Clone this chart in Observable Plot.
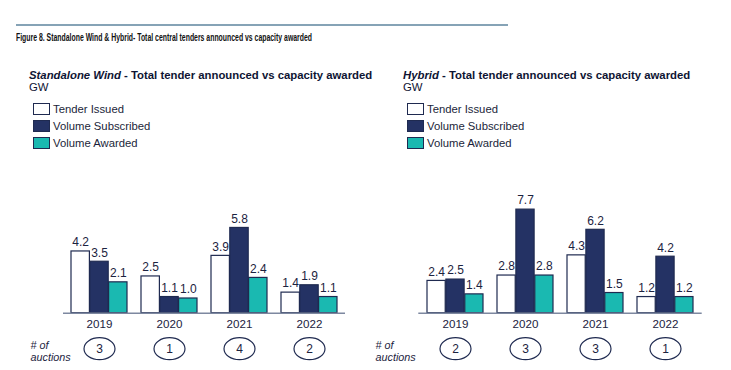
<!DOCTYPE html>
<html>
<head>
<meta charset="utf-8">
<script src="https://cdn.jsdelivr.net/npm/d3@7"></script>
<script src="https://cdn.jsdelivr.net/npm/@observablehq/plot@0.6"></script>
<style>
  body { margin: 0; background: #fff; width: 731px; height: 370px; position: relative; overflow: hidden; font-family: "Liberation Sans", Arial, sans-serif; }
  .abs { position: absolute; white-space: nowrap; }
  .rule { left: 16px; top: 24px; width: 492px; height: 0; border-top: 2px solid #86a3b6; }
  .title { left: 16px; top: 32px; font-family: "Liberation Sans", Arial, sans-serif; font-weight: bold; font-size: 10px; line-height: 12px; color: #111; transform-origin: 0 50%; }
  .sub { font-size: 11.35px; line-height: 11px; font-weight: bold; color: #0e1433; }
  .gw { font-size: 11.35px; line-height: 11px; color: #0e1433; }
  .leg { font-size: 11.3px; line-height: 13px; color: #1b1f3a; }
  .sw { position: absolute; width: 15px; height: 10px; border: 1px solid #1f2a50; }
</style>
</head>
<body>
<div class="abs rule"></div>
<div class="abs title" id="title">Figure 8. Standalone Wind &amp; Hybrid- Total central tenders announced vs capacity awarded</div>
<div class="abs sub" style="left:29px;top:69.5px"><i>Standalone Wind</i> - Total tender announced vs capacity awarded</div>
<div class="abs gw" style="left:29px;top:81.5px">GW</div>
<div class="abs sub" style="left:403px;top:69.5px"><i>Hybrid</i> - Total tender announced vs capacity awarded</div>
<div class="abs gw" style="left:403px;top:81.5px">GW</div>
<div id="legL"></div>
<div id="legR"></div>
<div id="chartL" class="abs" style="left:0;top:190px"></div>
<div id="chartR" class="abs" style="left:365px;top:190px"></div>
<script>
const years = ["2019", "2020", "2021", "2022"];
const seriesNames = ["Tender Issued", "Volume Subscribed", "Volume Awarded"];
const seriesColors = ["#ffffff", "#243264", "#1ab9b1"];

const windTender = [4.2, 2.5, 3.9, 1.4];
const windSubscribed = [3.5, 1.1, 5.8, 1.9];
const windAwarded = [2.1, 1.0, 2.4, 1.1];
const windAuctions = [3, 1, 4, 2];

const hybridTender = [2.4, 2.8, 4.3, 1.2];
const hybridSubscribed = [2.5, 7.7, 6.2, 4.2];
const hybridAwarded = [1.4, 2.8, 1.5, 1.2];
const hybridAuctions = [2, 3, 3, 1];

const ink = "#1f2a50";
const textInk = "#1c2340";

// condensed title: squeeze to reference width
const titleEl = document.getElementById("title");
const tw = titleEl.getBoundingClientRect().width;
titleEl.style.transform = `scaleX(${296 / tw})`;

function legend(el, left) {
  seriesNames.forEach((s, i) => {
    const top = 103 + i * 17;
    const sw = document.createElement("div");
    sw.className = "sw";
    sw.style.left = left + "px";
    sw.style.top = top + "px";
    sw.style.background = seriesColors[i];
    el.appendChild(sw);
    const t = document.createElement("div");
    t.className = "abs leg";
    t.style.left = (left + 20) + "px";
    t.style.top = (top - 0.5) + "px";
    t.textContent = s;
    el.appendChild(t);
  });
}
legend(document.getElementById("legL"), 33);
legend(document.getElementById("legR"), 407);

const ellipse = {
  draw(ctx) {
    const rx = 15.5, ry = 11, k = 0.5523;
    ctx.moveTo(rx, 0);
    ctx.bezierCurveTo(rx, ry * k, rx * k, ry, 0, ry);
    ctx.bezierCurveTo(-rx * k, ry, -rx, ry * k, -rx, 0);
    ctx.bezierCurveTo(-rx, -ry * k, -rx * k, -ry, 0, -ry);
    ctx.bezierCurveTo(rx * k, -ry, rx, -ry * k, rx, 0);
    ctx.closePath();
  }
};

function chart({tender, subscribed, awarded, auctions, width, marginLeft, marginRight, marginTop, yMax, labelDx}) {
  const vals = [tender, subscribed, awarded];
  const rows = years.flatMap((y, i) => seriesNames.map((s, k) => ({year: y, series: s, k, value: vals[k][i]})));
  const auc = years.map((y, i) => ({year: y, n: auctions[i]}));
  const height = 180, marginBottom = 57.3;
  const range = width - marginLeft - marginRight;
  const bandwidth = 0.8 * range / 4;
  const w = bandwidth / 3;
  const marks = [];
  seriesNames.forEach((s, k) => {
    const d = rows.filter(r => r.k === k);
    marks.push(Plot.barY(d, {
      x: "year", y: "value", fill: "series", stroke: ink, strokeWidth: 1.2,
      insetLeft: k * w, insetRight: (2 - k) * w
    }));
    marks.push(Plot.text(d, {
      x: "year", y: "value", text: r => r.value.toFixed(1), dx: (k - 1) * w, dy: -9,
      fontSize: 12, fill: textInk
    }));
  });
  marks.push(Plot.ruleY([0], {stroke: "#7d88a0", strokeWidth: 1.5}));
  marks.push(Plot.axisX({tickSize: 0, tickPadding: 7, fontSize: 11.6, fill: textInk, label: null}));
  marks.push(Plot.dot(auc, {x: "year", frameAnchor: "bottom", dy: 35.5, symbol: ellipse, stroke: ink, strokeWidth: 1.2, fill: "white"}));
  marks.push(Plot.text(auc, {x: "year", frameAnchor: "bottom", lineAnchor: "middle", dy: 35.5, text: d => String(d.n), fontSize: 12, fill: textInk}));
  marks.push(Plot.text(["# of\nauctions"], {frameAnchor: "bottom-left", lineAnchor: "middle", dx: labelDx, dy: 38.2, textAnchor: "start", fontSize: 10.8, fontStyle: "italic", lineHeight: 1.08, fill: textInk}));
  return Plot.plot({
    width, height, marginLeft, marginRight, marginTop, marginBottom,
    style: {fontFamily: "'Liberation Sans', Arial, sans-serif", overflow: "visible"},
    x: {domain: years, paddingInner: 0.2, paddingOuter: 0.1, axis: null},
    y: {domain: [0, yMax], axis: null},
    color: {domain: seriesNames, range: seriesColors},
    marks
  });
}

document.getElementById("chartL").appendChild(chart({
  tender: windTender, subscribed: windSubscribed, awarded: windAwarded, auctions: windAuctions,
  width: 365, marginLeft: 63, marginRight: 20, marginTop: 34.5, yMax: 6, labelDx: -33
}));
document.getElementById("chartR").appendChild(chart({
  tender: hybridTender, subscribed: hybridSubscribed, awarded: hybridAwarded, auctions: hybridAuctions,
  width: 366, marginLeft: 53.3, marginRight: 29.3, marginTop: 15.1, yMax: 8, labelDx: -43.3
}));
</script>
</body>
</html>
